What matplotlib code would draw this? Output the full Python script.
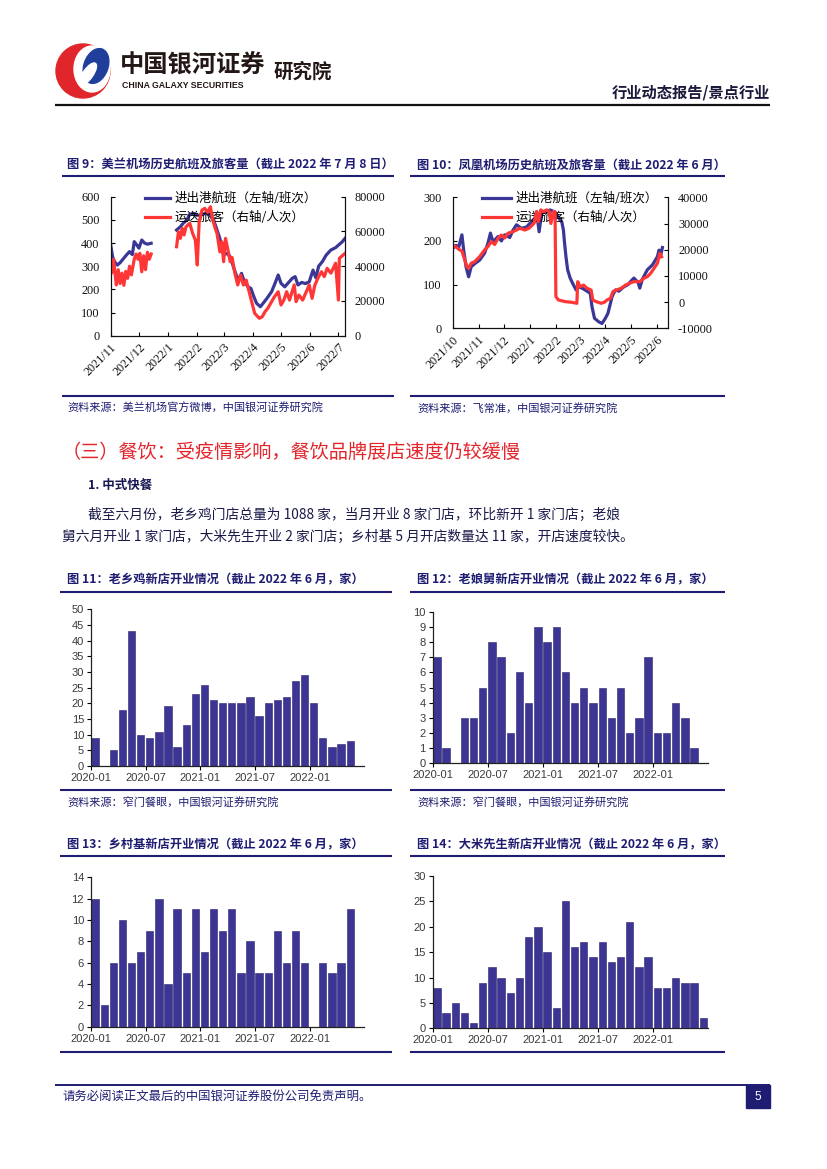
import numpy as np
import pandas as pd
import matplotlib
matplotlib.use('Agg')
import matplotlib.pyplot as plt
from matplotlib.patches import Rectangle, Ellipse, Circle

W, H = 827, 1169
plt.rcParams['font.family'] = ['Noto Sans CJK SC', 'DejaVu Sans']
plt.rcParams['axes.unicode_minus'] = False

NAVY = '#1f1d72'
BAR = '#3d3594'
BLUE = '#3b3797'
RED = '#ff3636'

# ---- 图9 美兰机场 ----
ml_ticks = ['2021/11', '2021/12', '2022/1', '2022/2', '2022/3', '2022/4', '2022/5', '2022/6', '2022/7']
ml_flt_dates = ['2021-11-01', '2021-11-03', '2021-11-05', '2021-11-08', '2021-11-11', '2021-11-14', '2021-11-17',
                '2021-11-21', '2021-11-24', '2021-11-26', '2021-11-29', '2021-12-01', '2021-12-04', '2021-12-07',
                '2021-12-10', '2021-12-14', '2021-12-25',
                '2022-01-10', '2022-01-14', '2022-01-17', '2022-01-21', '2022-01-24', '2022-01-28', '2022-01-31',
                '2022-02-05', '2022-02-10', '2022-02-15', '2022-02-20', '2022-02-25',
                '2022-03-01', '2022-03-05', '2022-03-08', '2022-03-12', '2022-03-15', '2022-03-18', '2022-03-20',
                '2022-03-23', '2022-03-27', '2022-03-30',
                '2022-04-02', '2022-04-05', '2022-04-09', '2022-04-12', '2022-04-16', '2022-04-21', '2022-04-25',
                '2022-04-28',
                '2022-05-01', '2022-05-05', '2022-05-08', '2022-05-13', '2022-05-16', '2022-05-19', '2022-05-23',
                '2022-05-27', '2022-05-31',
                '2022-06-04', '2022-06-07', '2022-06-10', '2022-06-14', '2022-06-18', '2022-06-23', '2022-06-28',
                '2022-07-01', '2022-07-05', '2022-07-08']
ml_flt = [391, 341, 320, 305, 315, 330, 345, 363, 350, 406, 390, 378, 413, 400, 395, 399, None,
          456, 470, 485, 500, 524, 528, 520,
          520, 530, 520, 480, 420,
          350, 355, 341, 290, 255, 247, 269, 233, 211, 204,
          170, 140, 125, 140, 161, 190, 230, 262,
          226, 211, 225, 248, 255, 219, 230, 225, 233,
          283, 250, 300, 320, 348, 370, 380,
          391, 405, 420]
ml_pax_dates = ['2021-11-01', '2021-11-02', '2021-11-04', '2021-11-06', '2021-11-07', '2021-11-09', '2021-11-11',
                '2021-11-13', '2021-11-15', '2021-11-17', '2021-11-19', '2021-11-21', '2021-11-23', '2021-11-26',
                '2021-11-28', '2021-11-30',
                '2021-12-02', '2021-12-04', '2021-12-06', '2021-12-08', '2021-12-10', '2021-12-12', '2021-12-14',
                '2021-12-25',
                '2022-01-10', '2022-01-12', '2022-01-14', '2022-01-16', '2022-01-18', '2022-01-20', '2022-01-24',
                '2022-01-27', '2022-01-30',
                '2022-02-01', '2022-02-03', '2022-02-06', '2022-02-09', '2022-02-12', '2022-02-15', '2022-02-17',
                '2022-02-20', '2022-02-22', '2022-02-25', '2022-02-27',
                '2022-03-01', '2022-03-03', '2022-03-06', '2022-03-08', '2022-03-10', '2022-03-13', '2022-03-16',
                '2022-03-19', '2022-03-22', '2022-03-25', '2022-03-29',
                '2022-04-03', '2022-04-08', '2022-04-11', '2022-04-14', '2022-04-17', '2022-04-21', '2022-04-24',
                '2022-04-28',
                '2022-05-01', '2022-05-04', '2022-05-07', '2022-05-10', '2022-05-15', '2022-05-17', '2022-05-20',
                '2022-05-24', '2022-05-31',
                '2022-06-03', '2022-06-06', '2022-06-10', '2022-06-13', '2022-06-16', '2022-06-19', '2022-06-23',
                '2022-06-28',
                '2022-07-01', '2022-07-02', '2022-07-08']
ml_pax = [42000, 36000, 44000, 34000, 29200, 38000, 30000, 36000, 29000, 37000, 33000, 40000, 35000, 44000,
          47000, 44000,
          47400, 36800, 46000, 38000, 48000, 44000, 47000, None,
          51200, 59800, 56000, 61800, 58000, 62700, 64700, 59000, 55000,
          40700, 65600, 72300, 73300, 71000, 74200, 67600, 61800, 58900, 48300, 54100,
          42600, 56000, 48300, 42600, 45000, 35900, 29200, 34900, 29200, 32000, 23400,
          12900, 10000, 10900, 13800, 15800, 19600, 22400, 25300,
          17700, 20500, 25300, 20500, 29200, 19600, 23400, 20500, 29200,
          21500, 29200, 34000, 36800, 34000, 38800, 36000, 41700,
          20500, 44500, 47400]

# ---- 图10 凤凰机场 ----
fh_ticks = ['2021/10', '2021/11', '2021/12', '2022/1', '2022/2', '2022/3', '2022/4', '2022/5', '2022/6']
fh_flt_dates = ['2021-10-01', '2021-10-05', '2021-10-08', '2021-10-12', '2021-10-14', '2021-10-17', '2021-10-20',
                '2021-10-23', '2021-10-28',
                '2021-11-02', '2021-11-08', '2021-11-12', '2021-11-15', '2021-11-18', '2021-11-24', '2021-11-28',
                '2021-12-02', '2021-12-08', '2021-12-12', '2021-12-16', '2021-12-22', '2021-12-28',
                '2022-01-03', '2022-01-07', '2022-01-09', '2022-01-12', '2022-01-15', '2022-01-20', '2022-01-25',
                '2022-01-30',
                '2022-02-02', '2022-02-06', '2022-02-08', '2022-02-10', '2022-02-11', '2022-02-13', '2022-02-15',
                '2022-02-18', '2022-02-21', '2022-02-25',
                '2022-03-01', '2022-03-06', '2022-03-10', '2022-03-14', '2022-03-16', '2022-03-19', '2022-03-24',
                '2022-03-28',
                '2022-04-01', '2022-04-04', '2022-04-07', '2022-04-09', '2022-04-13', '2022-04-17', '2022-04-23',
                '2022-04-28',
                '2022-05-01', '2022-05-05', '2022-05-10', '2022-05-12', '2022-05-15', '2022-05-21', '2022-05-27',
                '2022-06-02', '2022-06-04', '2022-06-06', '2022-06-08']
fh_flt = [183, 190, 185, 214, 180, 140, 118, 141, 149,
          156, 172, 195, 218, 198, 210, 200,
          214, 208, 225, 237, 229, 232,
          244, 252, 267, 221, 263, 267, 271, 267,
          260, 248, 244, 225, 202, 164, 134, 115, 103, 88,
          95, 90, 85, 80, 50, 23, 15, 11,
          23, 34, 57, 73, 88, 85, 95, 100,
          107, 115, 105, 92, 112, 134, 145,
          164, 179, 168, 185]
fh_pax_dates = ['2021-10-01', '2021-10-05', '2021-10-09', '2021-10-12', '2021-10-15', '2021-10-18', '2021-10-20',
                '2021-10-23', '2021-10-27',
                '2021-11-02', '2021-11-08', '2021-11-12', '2021-11-16', '2021-11-20', '2021-11-24', '2021-11-28',
                '2021-12-02', '2021-12-06', '2021-12-12', '2021-12-16', '2021-12-20', '2021-12-26', '2021-12-31',
                '2022-01-06', '2022-01-09', '2022-01-11', '2022-01-14', '2022-01-17', '2022-01-21', '2022-01-24',
                '2022-01-26', '2022-01-29', '2022-01-31',
                '2022-02-01', '2022-02-04', '2022-02-12', '2022-02-20', '2022-02-26', '2022-02-27',
                '2022-03-02', '2022-03-06', '2022-03-10', '2022-03-15', '2022-03-17', '2022-03-21', '2022-03-27',
                '2022-03-31',
                '2022-04-03', '2022-04-07', '2022-04-10', '2022-04-14', '2022-04-20', '2022-04-25', '2022-04-30',
                '2022-05-05', '2022-05-12', '2022-05-17', '2022-05-21', '2022-05-25', '2022-05-29',
                '2022-06-02', '2022-06-05', '2022-06-07']
fh_pax = [21800, 21000, 20000, 19500, 16500, 13500, 12900, 14800, 15400,
          17300, 19900, 21200, 23100, 22000, 24300, 25600,
          24500, 26300, 26900, 27500, 28200, 27500, 28200,
          30100, 34500, 30700, 35200, 34500, 35200, 34500, 30000, 34500, 34500,
          2100, 810, 180, -80, -460, 7800,
          5900, 6500, 5300, 4600, 810, 180, -460, 0,
          810, 1450, 4000, 4600, 5300, 6500, 7200,
          7800, 7800, 9100, 9700, 11000, 12900,
          14800, 18600, 17300]

# ---- 图11-14 新店开业（月度，2020-01 起）----
bar_ticks = ['2020-01', '2020-07', '2021-01', '2021-07', '2022-01']
lxj = [9, 0, 5, 18, 43, 10, 9, 11, 19, 6, 13, 23, 26, 21, 20, 20, 20, 22, 16, 20, 21, 22, 27, 29, 20, 9, 6, 7, 8]
lnj = [7, 1, 0, 3, 3, 5, 8, 7, 2, 6, 4, 9, 8, 9, 6, 4, 5, 4, 5, 3, 5, 2, 3, 7, 2, 2, 4, 3, 1]
xcj = [12, 2, 6, 10, 6, 7, 9, 12, 4, 11, 5, 11, 7, 11, 9, 11, 5, 8, 5, 5, 9, 6, 9, 6, 0, 6, 5, 6, 11]
dmxs = [8, 3, 5, 3, 1, 9, 12, 10, 7, 10, 18, 20, 15, 4, 25, 16, 17, 14, 17, 13, 14, 21, 12, 14, 8, 8, 10, 9, 9, 2]

fig = plt.figure(figsize=(W / 100, H / 100), dpi=100)
bg = fig.add_axes([0, 0, 1, 1])
bg.set_xlim(0, W)
bg.set_ylim(H, 0)
bg.axis('off')
bg.set_zorder(-5)


def px_ax(x0, y0, x1, y1):
    a = fig.add_axes([x0 / W, 1 - y1 / H, (x1 - x0) / W, (y1 - y0) / H])
    a.set_facecolor('none')
    return a


def hline(x0, x1, y, lw=1.5, color=NAVY):
    bg.plot([x0, x1], [y, y], color=color, lw=lw, solid_capstyle='butt')


# header
bg.add_patch(Circle((83, 71), 27, color='#e0262b'))
bg.add_patch(Ellipse((92, 69), 36, 46, color='white'))
bg.add_patch(Ellipse((96, 66), 24, 36, angle=20, color='#1f3f9a'))
bg.add_patch(Ellipse((88, 74), 10, 26, angle=35, color='white'))
bg.text(120, 66, '中国银河证券', fontsize=17.5, fontweight='bold', color='#231815', va='center')
bg.text(122, 86, 'CHINA GALAXY SECURITIES', fontsize=6.3, fontweight='bold', color='#231815', va='center',
        family='Liberation Sans')
bg.text(274, 72, '研究院', fontsize=14, fontweight='bold', color='#231815', va='center')
bg.text(770, 92, '行业动态报告/景点行业', fontsize=11, fontweight='bold', color='#1a1a3a', va='center', ha='right')
hline(55, 770, 105, lw=1.6, color='#111111')


def titled_block(x, y_title, x0, x1, y_line, title):
    bg.text(x, y_title, title, fontsize=8.8, fontweight='bold', color=NAVY, va='center')
    hline(x0, x1, y_line)


def source(x, y, text):
    bg.text(x, y, text, fontsize=8, color=NAVY, va='center')


def line_panel(rect, d1, v1, d2, v2, xlim, ticks, ylim1, step1, ylim2, step2, leg_anchor, hl):
    ax = px_ax(*rect)
    l1, = ax.plot(pd.to_datetime(d1), np.array(v1, dtype=float), color=BLUE, lw=2.3)
    ax2 = ax.twinx()
    l2, = ax2.plot(pd.to_datetime(d2), np.array(v2, dtype=float), color=RED, lw=2.3)
    ax.set_xlim(pd.Timestamp(xlim[0]), pd.Timestamp(xlim[1]))
    ax.set_ylim(*ylim1)
    ax.set_yticks(np.arange(ylim1[0], ylim1[1] + 1, step1))
    ax2.set_ylim(*ylim2)
    ax2.set_yticks(np.arange(ylim2[0], ylim2[1] + 1, step2))
    ax.set_xticks(pd.to_datetime(ticks, format='%Y/%m'))
    ax.set_xticklabels(ticks, rotation=45, ha='right', va='top', rotation_mode='anchor')
    for a in (ax, ax2):
        a.spines['top'].set_visible(False)
        for s in ('left', 'right', 'bottom'):
            a.spines[s].set_linewidth(0.8)
            a.spines[s].set_color('#111111')
        a.tick_params(direction='in', length=3, width=0.8, labelsize=8.8, labelcolor='#111111')
    ax.tick_params(axis='y', pad=8)
    ax.tick_params(axis='x', pad=4)
    ax2.tick_params(axis='y', pad=7)
    for lbl in ax.get_xticklabels() + ax.get_yticklabels() + ax2.get_yticklabels():
        lbl.set_fontfamily('Liberation Serif')
    ax.legend([l1, l2], ['进出港航班（左轴/班次）', '运送旅客（右轴/人次）'], loc='upper left',
              bbox_to_anchor=leg_anchor, frameon=False, fontsize=9, handlelength=hl, handletextpad=0.4,
              labelspacing=0.5, borderaxespad=0, borderpad=0)
    return ax


def bar_panel(rect, vals, ymax, step):
    ax = px_ax(*rect)
    pos = np.arange(len(vals))
    ax.bar(pos + 0.45, vals, width=0.8, color=BAR, edgecolor='#2a2372', linewidth=0.4)
    ax.set_xlim(0, 30)
    ax.set_ylim(0, ymax)
    ax.set_yticks(np.arange(0, ymax + 0.1, step))
    tick_pos = [(int(t[:4]) - 2020) * 12 + int(t[5:]) - 1 for t in bar_ticks]
    ax.set_xticks(tick_pos)
    ax.set_xticklabels(bar_ticks)
    for s in ('top', 'right'):
        ax.spines[s].set_visible(False)
    for s in ('left', 'bottom'):
        ax.spines[s].set_linewidth(0.9)
        ax.spines[s].set_color('#222222')
    ax.tick_params(direction='out', length=3, width=0.8, labelsize=8, labelcolor='#3a3a3a', pad=2)
    for lbl in ax.get_xticklabels() + ax.get_yticklabels():
        lbl.set_fontfamily('Liberation Sans')
    return ax


# 图9 / 图10
titled_block(67, 165, 62, 394, 176, '图 9：美兰机场历史航班及旅客量（截止 2022 年 7 月 8 日）')
titled_block(417, 165, 410, 725, 176, '图 10：凤凰机场历史航班及旅客量（截止 2022 年 6 月）')
line_panel((110.7, 196.7, 345, 335.7), ml_flt_dates, ml_flt, ml_pax_dates, ml_pax,
           ('2021-11-01', '2022-07-08'), ml_ticks, (0, 600), 100, (0, 80000), 20000, (0.146, 1.035), 2.0)
line_panel((452.7, 197.3, 668.3, 328.3), fh_flt_dates, fh_flt, fh_pax_dates, fh_pax,
           ('2021-10-01', '2022-06-15'), fh_ticks, (0, 300), 100, (-10000, 40000), 10000, (0.136, 1.04), 2.3)
hline(62, 394, 396)
hline(410, 725, 396)
source(67, 408, '资料来源：美兰机场官方微博，中国银河证券研究院')
source(417, 408, '资料来源：飞常准，中国银河证券研究院')

# 正文
bg.text(62, 452, '（三）餐饮：受疫情影响，餐饮品牌展店速度仍较缓慢', fontsize=13.8, color='#e3242b', va='center')
bg.text(88, 485, '1. 中式快餐', fontsize=9, fontweight='bold', color='#161650', va='center')
bg.text(88, 515, '截至六月份，老乡鸡门店总量为 1088 家，当月开业 8 家门店，环比新开 1 家门店；老娘',
        fontsize=9.9, color='#1a1a4a', va='center')
bg.text(62, 537, '舅六月开业 1 家门店，大米先生开业 2 家门店；乡村基 5 月开店数量达 11 家，开店速度较快。',
        fontsize=9.9, color='#1a1a4a', va='center')

# 图11 / 图12
titled_block(67, 580, 60, 392, 592, '图 11：老乡鸡新店开业情况（截止 2022 年 6 月，家）')
titled_block(417, 580, 410, 725, 592, '图 12：老娘舅新店开业情况（截止 2022 年 6 月，家）')
bar_panel((91, 609.3, 364.3, 766), lxj, 50, 5)
bar_panel((432.7, 612.3, 708.3, 762.7), lnj, 10, 1)
hline(60, 392, 790)
hline(410, 725, 790)
source(67, 803, '资料来源：窄门餐眼，中国银河证券研究院')
source(417, 803, '资料来源：窄门餐眼，中国银河证券研究院')

# 图13 / 图14
titled_block(67, 845, 60, 392, 856, '图 13：乡村基新店开业情况（截止 2022 年 6 月，家）')
titled_block(417, 845, 410, 725, 856, '图 14：大米先生新店开业情况（截止 2022 年 6 月，家）')
bar_panel((91, 877.3, 364.3, 1026.7), xcj, 14, 2)
bar_panel((432.7, 876, 708.3, 1028.3), dmxs, 30, 5)
hline(60, 392, 1052)
hline(410, 725, 1052)

# footer
hline(55, 770, 1085, lw=1.4)
bg.text(62, 1097, '请务必阅读正文最后的中国银河证券股份公司免责声明。', fontsize=8.9, color=NAVY, va='center')
bg.add_patch(Rectangle((746, 1085), 24, 23, color='#1f1d72'))
bg.text(758, 1097, '5', fontsize=8.5, color='white', ha='center', va='center', family='Liberation Sans')

fig.savefig('out.png', dpi=100)
